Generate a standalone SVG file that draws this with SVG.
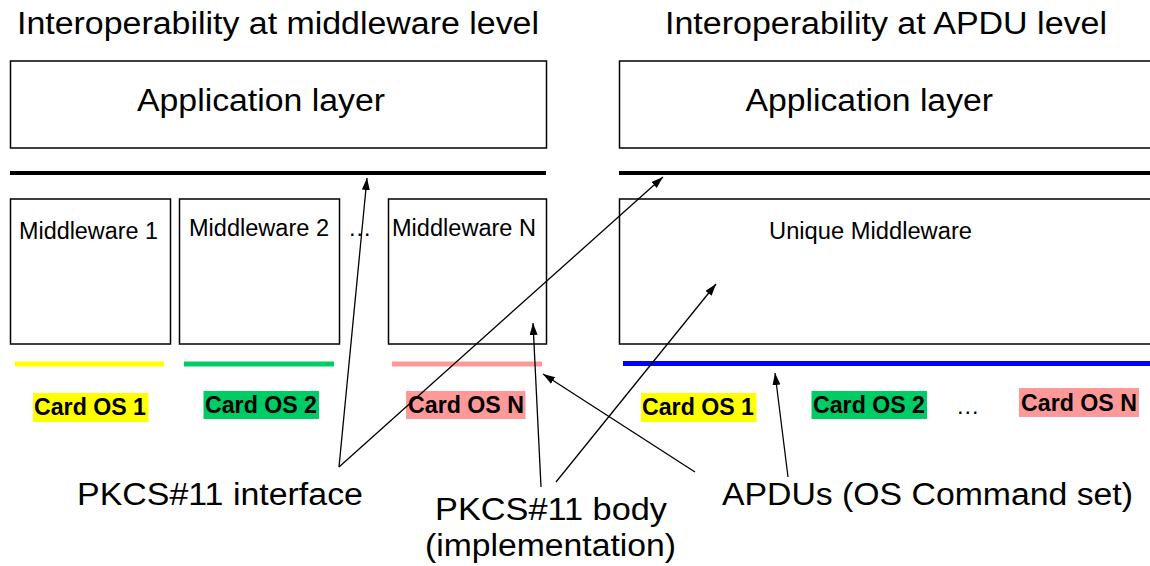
<svg xmlns="http://www.w3.org/2000/svg" width="1150" height="566" viewBox="0 0 1150 566">
  <style>
    .box { fill: #ffffff; stroke: #000000; stroke-width: 1.5; }
    .bus { stroke: #000000; stroke-width: 4; }
    .big { font-family: "Liberation Sans", Arial, sans-serif; font-size: 31px; fill: #000000; }
    .mid { font-family: "Liberation Sans", Arial, sans-serif; font-size: 23.5px; fill: #000000; }
    .os { font-family: "Liberation Sans", Arial, sans-serif; font-size: 23.3px; font-weight: bold; fill: #000000; }
    .link { fill: none; stroke: #000000; stroke-width: 1.3; marker-end: url(#tip); }
    .yel { fill: #ffff00; }
    .grn { fill: #00cc66; }
    .pnk { fill: #ff9999; }
  </style>
  <defs>
    <marker id="tip" markerUnits="userSpaceOnUse" markerWidth="13" markerHeight="9" refX="12" refY="4" orient="auto">
      <path d="M0,0 L12,4 L0,8 z" fill="#000000"/>
    </marker>
  </defs>

  <rect width="1150" height="566" fill="#ffffff"/>

  <!-- column headings -->
  <g id="heading-left">
    <text class="big" x="17" y="34" textLength="522" lengthAdjust="spacingAndGlyphs">Interoperability at middleware level</text>
  </g>
  <g id="heading-right">
    <text class="big" x="665" y="34" textLength="442" lengthAdjust="spacingAndGlyphs">Interoperability at APDU level</text>
  </g>

  <!-- application layers -->
  <g id="app-left">
    <rect class="box" x="10.5" y="61" width="536" height="87"/>
    <text class="big" x="137" y="111" textLength="248" lengthAdjust="spacingAndGlyphs">Application layer</text>
  </g>
  <g id="app-right">
    <rect class="box" x="619.5" y="61" width="545" height="87"/>
    <text class="big" x="745.5" y="111" textLength="247.5" lengthAdjust="spacingAndGlyphs">Application layer</text>
  </g>

  <!-- PKCS#11 interface buses -->
  <g id="bus-left"><line class="bus" x1="10" y1="173" x2="546" y2="173"/></g>
  <g id="bus-right"><line class="bus" x1="619" y1="173" x2="1150" y2="173"/></g>

  <!-- middleware boxes -->
  <g id="mw-1">
    <rect class="box" x="10.5" y="199" width="160" height="145"/>
    <text class="mid" x="19" y="239" textLength="139" lengthAdjust="spacingAndGlyphs">Middleware 1</text>
  </g>
  <g id="mw-2">
    <rect class="box" x="179.5" y="199" width="160" height="145"/>
    <text class="mid" x="189" y="236" textLength="140" lengthAdjust="spacingAndGlyphs">Middleware 2</text>
  </g>
  <g id="mw-dots">
    <text class="mid" x="348" y="236">…</text>
  </g>
  <g id="mw-n">
    <rect class="box" x="388.5" y="199" width="158" height="145"/>
    <text class="mid" x="392" y="236" textLength="144" lengthAdjust="spacingAndGlyphs">Middleware N</text>
  </g>
  <g id="mw-unique">
    <rect class="box" x="619.5" y="199" width="545" height="145"/>
    <text class="mid" x="769" y="239" textLength="203" lengthAdjust="spacingAndGlyphs">Unique Middleware</text>
  </g>

  <!-- card OS command-set bars -->
  <g id="bar-os1"><rect class="yel" x="15" y="361.5" width="149" height="5"/></g>
  <g id="bar-os2"><rect class="grn" x="184" y="361.5" width="150" height="5"/></g>
  <g id="bar-osn"><rect class="pnk" x="392" y="361.5" width="150" height="5"/></g>
  <g id="bar-apdu"><rect fill="#0000ff" x="623" y="361" width="527" height="5"/></g>

  <!-- card OS labels, left -->
  <g id="os1-left">
    <rect class="yel" x="33" y="393" width="115.5" height="29"/>
    <text class="os" x="34" y="415" textLength="112" lengthAdjust="spacingAndGlyphs">Card OS 1</text>
  </g>
  <g id="os2-left">
    <rect class="grn" x="203.5" y="391" width="115.5" height="28"/>
    <text class="os" x="205" y="413" textLength="112" lengthAdjust="spacingAndGlyphs">Card OS 2</text>
  </g>
  <g id="osn-left">
    <rect class="pnk" x="406" y="391" width="119.5" height="28"/>
    <text class="os" x="408" y="413" textLength="116" lengthAdjust="spacingAndGlyphs">Card OS N</text>
  </g>

  <!-- card OS labels, right -->
  <g id="os1-right">
    <rect class="yel" x="641" y="393" width="115.5" height="29"/>
    <text class="os" x="642" y="415" textLength="112" lengthAdjust="spacingAndGlyphs">Card OS 1</text>
  </g>
  <g id="os2-right">
    <rect class="grn" x="811.5" y="391" width="115.5" height="28"/>
    <text class="os" x="813" y="413" textLength="112" lengthAdjust="spacingAndGlyphs">Card OS 2</text>
  </g>
  <g id="os-dots">
    <text class="mid" x="956" y="414">…</text>
  </g>
  <g id="osn-right">
    <rect class="pnk" x="1019" y="388" width="120" height="29"/>
    <text class="os" x="1021" y="411" textLength="116" lengthAdjust="spacingAndGlyphs">Card OS N</text>
  </g>

  <!-- callout labels -->
  <g id="label-interface">
    <text class="big" x="77" y="505" textLength="286" lengthAdjust="spacingAndGlyphs">PKCS#11 interface</text>
  </g>
  <g id="label-body">
    <text class="big" x="435" y="520" textLength="232" lengthAdjust="spacingAndGlyphs">PKCS#11 body</text>
    <text class="big" x="425" y="556" textLength="251" lengthAdjust="spacingAndGlyphs">(implementation)</text>
  </g>
  <g id="label-apdu">
    <text class="big" x="722" y="505" textLength="411" lengthAdjust="spacingAndGlyphs">APDUs (OS Command set)</text>
  </g>

  <!-- callout arrows -->
  <g id="connectors">
    <line class="link" x1="339" y1="467" x2="367" y2="178"/>
    <line class="link" x1="339" y1="467" x2="663" y2="177"/>
    <line class="link" x1="541" y1="487" x2="533" y2="323"/>
    <line class="link" x1="556" y1="482" x2="716" y2="284"/>
    <line class="link" x1="695" y1="472" x2="543" y2="374"/>
    <line class="link" x1="788" y1="477" x2="775" y2="373"/>
  </g>
</svg>
